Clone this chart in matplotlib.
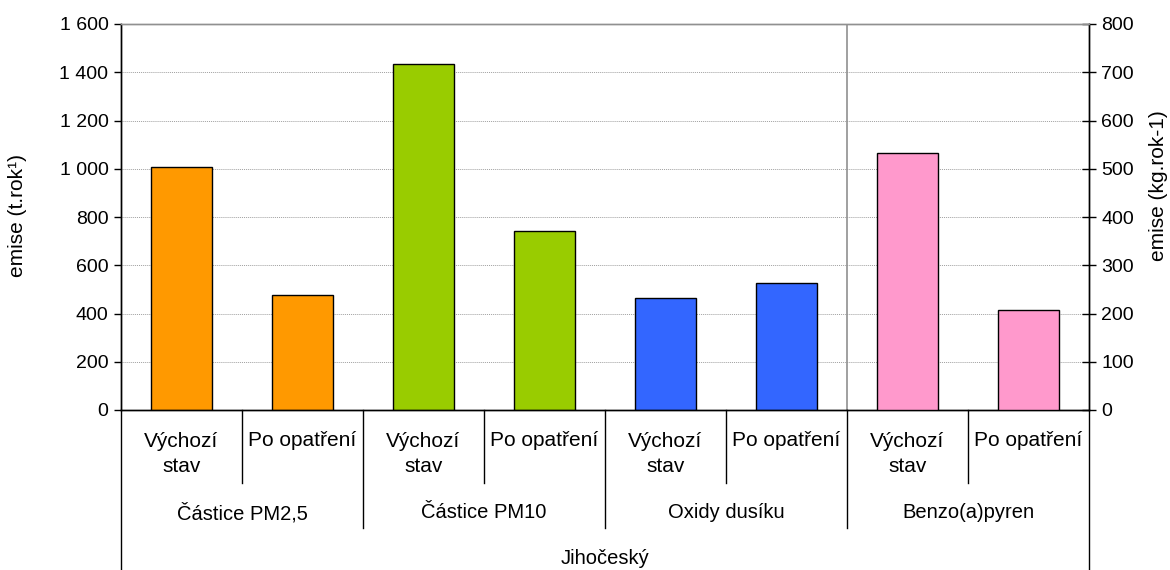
import matplotlib
matplotlib.use("Agg")
import matplotlib.pyplot as plt
import numpy as np

plt.rcParams['font.family'] = ['Liberation Sans', 'DejaVu Sans']

# ---- data ----
groups = ["Částice PM2,5", "Částice PM10", "Oxidy dusíku", "Benzo(a)pyren"]
sub_labels = ["Výchozí\nstav", "Po opatření"]
region = "Jihočeský"
left_values = [1007, 475, 1436, 742, 465, 527]   # t/rok  (PM2.5, PM10, NOx)
right_values = [533, 207]                        # kg/rok (Benzo(a)pyren)
colors = ["#FF9900", "#FF9900", "#99CC00", "#99CC00", "#3366FF", "#3366FF", "#FF99CC", "#FF99CC"]
left_ticks = [0, 200, 400, 600, 800, 1000, 1200, 1400, 1600]
right_ticks = [0, 100, 200, 300, 400, 500, 600, 700, 800]

W, H = 1170, 570
fig = plt.figure(figsize=(W / 100, H / 100), dpi=100)
x0, x1, ytop, ybot = 121, 1089, 24, 410
ax = fig.add_axes([x0 / W, (H - ybot) / H, (x1 - x0) / W, (ybot - ytop) / H])
ax2 = ax.twinx()

n = len(left_values) + len(right_values)
xs = np.arange(n)
ax.bar(xs[:len(left_values)], left_values, width=0.5, color=colors[:len(left_values)],
       edgecolor="black", linewidth=1.0, zorder=3)
ax2.bar(xs[len(left_values):], right_values, width=0.5, color=colors[len(left_values):],
        edgecolor="black", linewidth=1.0, zorder=3)

ax.set_xlim(-0.5, n - 0.5)
ax.set_ylim(0, 1600)
ax2.set_ylim(0, 800)

TICK_FS = 14
fmt = lambda v: f"{v:,}".replace(",", " ")
ax.set_yticks(left_ticks)
ax.set_yticklabels([fmt(v) for v in left_ticks], fontsize=TICK_FS)
ax2.set_yticks(right_ticks)
ax2.set_yticklabels([str(v) for v in right_ticks], fontsize=TICK_FS)
ax.tick_params(axis='y', direction='out', length=5, width=1, pad=4)
ax2.tick_params(axis='y', direction='inout', length=10, width=1, pad=4)
ax.set_xticks([])
ax2.set_xticks([])

for v in left_ticks[1:-1]:
    ax.axhline(v, color="#A0A0A0", linewidth=0.7, linestyle=(0, (1, 1)), zorder=1)

# spines
ax.spines["top"].set_color("#909090")
ax2.spines["top"].set_color("#909090")
for a in (ax, ax2):
    a.spines["left"].set_color("black")
    a.spines["right"].set_color("black")
    a.spines["bottom"].set_color("black")
    for s in a.spines.values():
        s.set_linewidth(1.0)
ax2.set_zorder(ax.get_zorder() + 1)
ax2.patch.set_visible(False)

# separator between left and right axis series
ax.axvline(len(left_values) - 0.5, color="#909090", linewidth=1.2, zorder=2)

# axis titles (pixel positions)
fig.text(18 / W, 1 - 215 / H, "emise (t.rok¹)", rotation=90, ha="center", va="center", fontsize=15)
fig.text(1158 / W, 1 - 186 / H, "emise (kg.rok-1)", rotation=90, ha="center", va="center", fontsize=15)

# multi-level category axis
trans = ax.get_xaxis_transform()
px = lambda y: (ybot - y) / (ybot - ytop)
line_kw = dict(color="black", linewidth=1.0, clip_on=False, transform=trans)
for b in np.arange(0.5, n - 0.5, 2):
    ax.plot([b, b], [0, px(483)], **line_kw)
for b in np.arange(1.5, n - 1, 2):
    ax.plot([b, b], [0, px(528)], **line_kw)
for b in [-0.5, n - 0.5]:
    ax.plot([b, b], [0, px(570)], **line_kw)

SUB_FS = 15
for i in range(n):
    lab = sub_labels[i % 2]
    if "\n" in lab:
        ax.text(xs[i], px(454), lab, ha="center", va="center", fontsize=SUB_FS,
                linespacing=1.45, transform=trans)
    else:
        ax.text(xs[i], px(440), lab, ha="center", va="center", fontsize=SUB_FS, transform=trans)
for g, name in enumerate(groups):
    ax.text(2 * g + 0.5, px(513), name, ha="center", va="center", fontsize=14.5, transform=trans)
ax.text((n - 1) / 2, px(558), region, ha="center", va="center", fontsize=14.5, transform=trans)

fig.savefig("out.png", dpi=100)
